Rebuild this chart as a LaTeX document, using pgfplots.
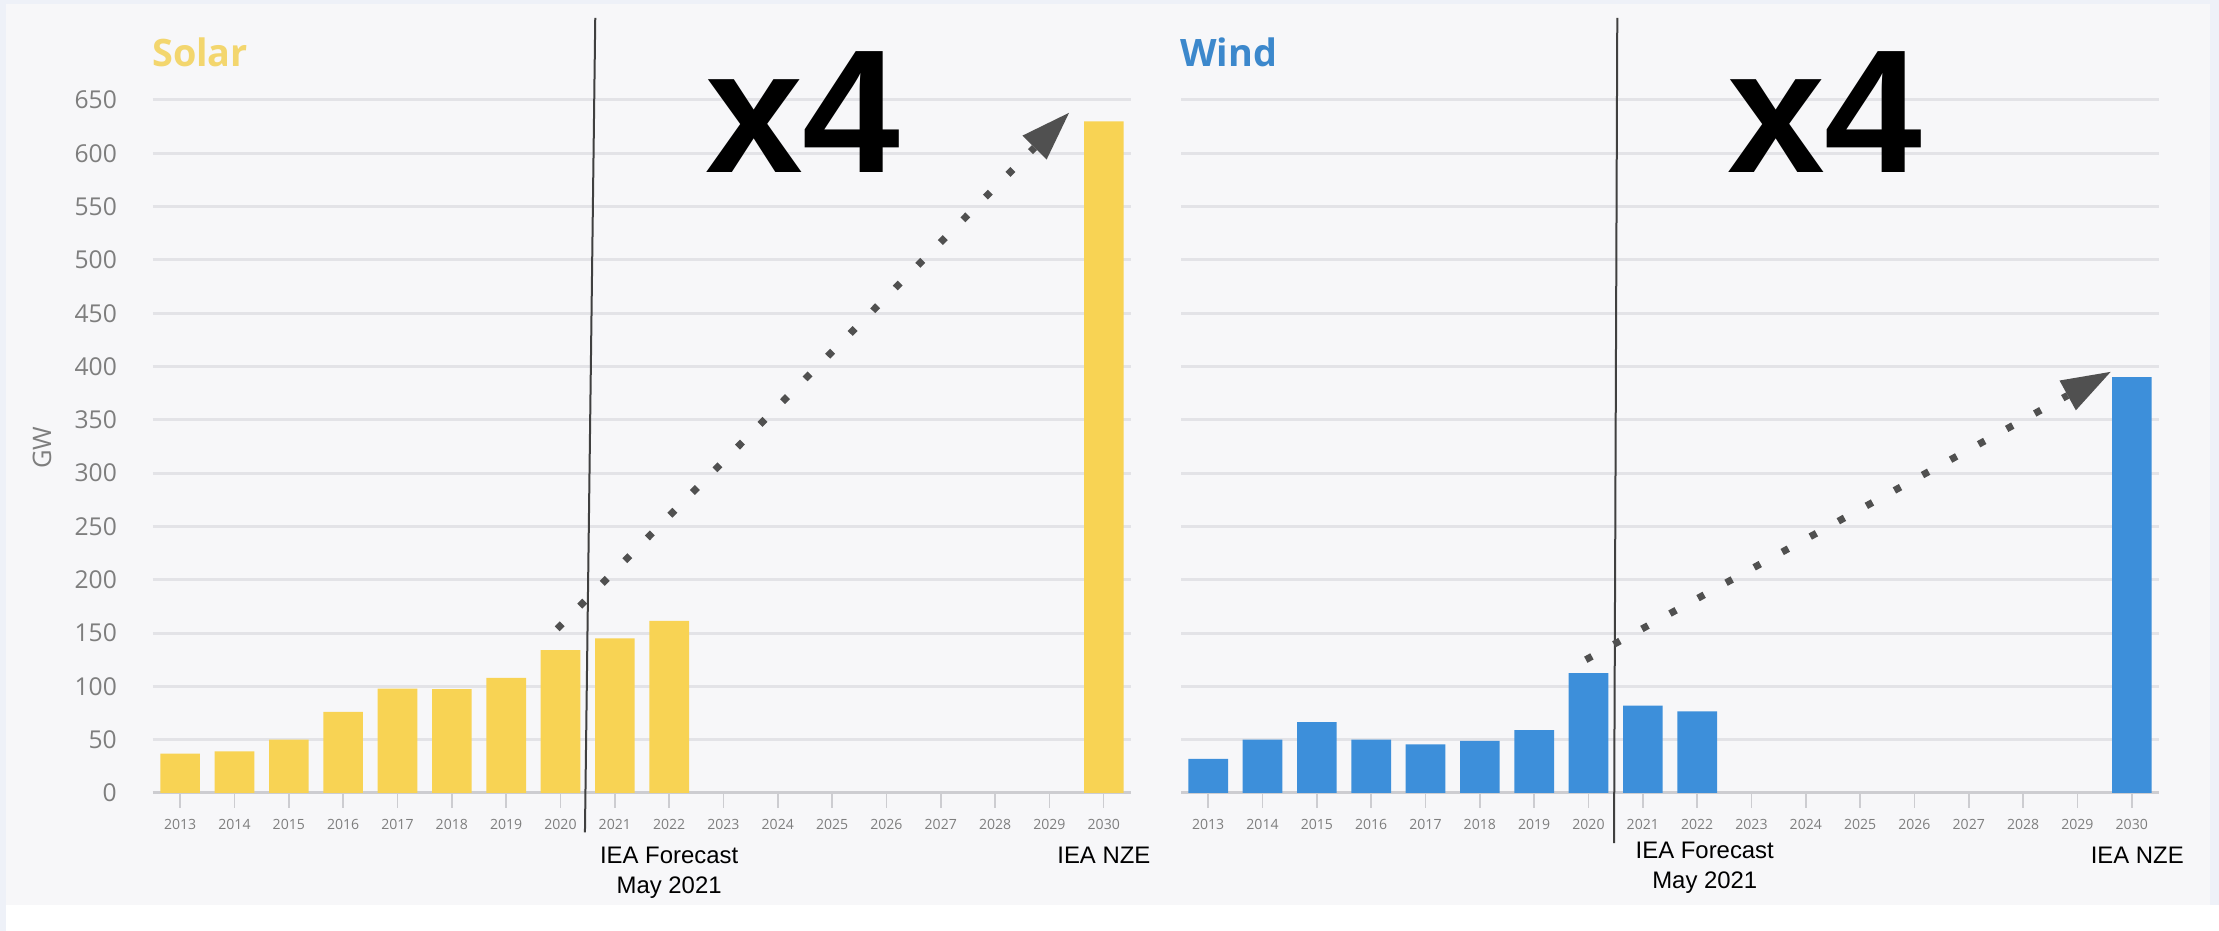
\documentclass[border=0pt]{standalone}
\usepackage{pgfplots}
\pgfplotsset{compat=1.18}
\usepackage{fontspec}
\setmainfont{Open Sans}
\newfontfamily\arialfont{Liberation Sans}
\usetikzlibrary{arrows.meta}
\definecolor{bgouter}{HTML}{EEF1F8}
\definecolor{bginner}{HTML}{F7F7F9}
\definecolor{solar}{HTML}{F8D354}
\definecolor{solartitle}{HTML}{F3D66E}
\definecolor{wind}{HTML}{3D8FDA}
\definecolor{windtitle}{HTML}{3C88CC}
\definecolor{gridgray}{HTML}{E3E3E7}
\definecolor{basegray}{HTML}{CDCDD1}
\definecolor{ticklbl}{HTML}{7E7E7E}
\definecolor{arrowgray}{HTML}{505050}

% 1 px of the reference = 0.2mm
\pgfplotsset{
  panel/.style={
    scale only axis,
    width=195.6mm, height=138.6mm,
    anchor=south west,
    clip=false,
    xmin=2012.5, xmax=2030.5, ymin=0, ymax=650,
    ybar, bar width=0.73,
    xtick={2013,...,2030},
    ytick={0,50,...,650},
    ymajorgrids,
    grid style={gridgray, line width=0.6mm},
    extra y ticks={0},
    extra y tick labels={},
    extra y tick style={grid style={basegray, line width=0.6mm}},
    axis line style={draw=none},
    xtick pos=bottom, ytick pos=left,
    tick align=outside,
    major tick length=3mm,
    ytick style={draw=none},
    xtick style={draw=basegray, line width=0.3mm},
    /pgf/number format/1000 sep={},
    /pgf/number format/assume math mode=true,
    xticklabel style={font=\fontsize{8}{9}\selectfont, text=ticklbl, yshift=-1mm},
    yticklabel style={font=\fontsize{14}{16}\selectfont, text=ticklbl, xshift=-3mm},
  },
}
\tikzset{
  dots/.style={arrowgray, line width=1.4mm, dash pattern=on 1.4mm off 5mm,
    -{Triangle[length=9.8mm, width=6.8mm, line width=0pt]}},
  fline/.style={line width=0.4mm, color=black!75},
  big/.style={font=\arialfont\bfseries\fontsize{100}{100}\selectfont, anchor=base, inner sep=0},
  note/.style={font=\arialfont\fontsize{13.6}{17}\selectfont, align=center, anchor=north, inner sep=0},
}

\begin{document}
\begin{tikzpicture}
  % background
  \fill[bgouter] (0,0) rectangle (443.8mm,186.2mm);
  \fill[bginner] (1.2mm,5.2mm) rectangle (442.0mm,185.4mm);
  \fill[white] (1.2mm,0) rectangle (443.8mm,5.2mm);

  % Solar
  \begin{axis}[panel, at={(30.6mm,27.6mm)},
      ylabel={GW},
      ylabel style={at={(axis description cs:-0.1135,0.498)}, anchor=center,
        font=\fontsize{14.5}{16}\selectfont, text=ticklbl}]
    \addplot[fill=solar, draw=none] coordinates {
      (2013,37) (2014,39) (2015,50) (2016,76) (2017,98) (2018,97.5)
      (2019,108) (2020,134) (2021,145) (2022,161.5) (2030,630)
    };
    \draw[fline] (axis cs:2020.64,727) -- (axis cs:2020.45,-37);
    \draw[dots] (axis cs:2019.94,154) -- (axis cs:2029.36,638);
    \node[big] at (axis cs:2024.46,582) {x4};
    \node[anchor=base west, inner sep=0, text=solartitle,
      font=\bfseries\fontsize{21.5}{22}\selectfont] at (axis cs:2012.48,681) {Solar};
    \node[note] at (axis cs:2022,-50.6) {IEA Forecast\\May 2021};
    \node[note] at (axis cs:2030,-50.6) {IEA NZE};
  \end{axis}

  % Wind
  \begin{axis}[panel, at={(236.2mm,27.6mm)}, yticklabels={}]
    \addplot[fill=wind, draw=none] coordinates {
      (2013,32) (2014,50) (2015,66.5) (2016,50) (2017,45.5) (2018,49)
      (2019,59) (2020,112.5) (2021,82) (2022,76.5) (2030,390)
    };
    \draw[fline] (axis cs:2020.53,727) -- (axis cs:2020.47,-47);
    \draw[dots] (axis cs:2019.95,125) -- (axis cs:2029.61,395);
    \node[big] at (axis cs:2024.35,582) {x4};
    \node[anchor=base west, inner sep=0, text=windtitle,
      font=\bfseries\fontsize{21.5}{22}\selectfont] at (axis cs:2012.48,681) {Wind};
    \node[note] at (axis cs:2022.14,-46) {IEA Forecast\\May 2021};
    \node[note] at (axis cs:2030.1,-50.6) {IEA NZE};
  \end{axis}

  \pgfresetboundingbox
  \path (0,0) rectangle (443.8mm,186.2mm);
\end{tikzpicture}
\end{document}
